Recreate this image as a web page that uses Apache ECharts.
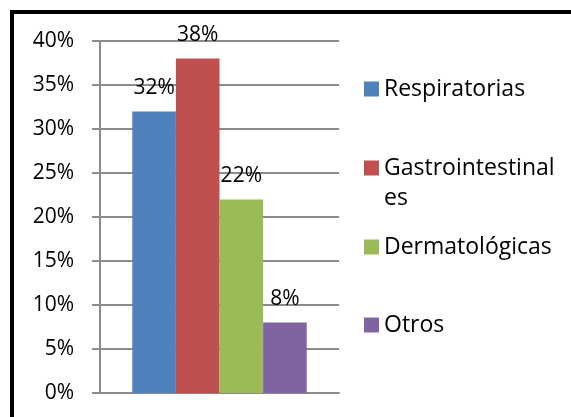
<!DOCTYPE html>
<html>
<head>
<meta charset="utf-8">
<script src="https://cdn.jsdelivr.net/npm/echarts@6/dist/echarts.min.js"></script>
<style>
    html, body { margin: 0; padding: 0; background: #fff; }
    #frame {
        position: absolute; left: 10px; top: 10px;
        width: 640px; height: 480px;
        border: 4px solid #000;
    }
    #main { position: absolute; left: 0; top: 0; width: 571px; height: 417px; }
</style>
</head>
<body>
<div id="frame"></div>
<div id="main"></div>
<script>
// datos del gráfico
const categories = [''];
const seriesNames = ['Respiratorias', 'Gastrointestinales', 'Dermatológicas', 'Otros'];
const seriesValues = [[32], [38], [22], [8]];
const seriesColors = ['#4F81BD', '#C0504D', '#9BBB59', '#8064A2'];
// la línea vacía inicial deja el icono alineado con "Gastrointestinal"
const legendLabels = ['Respiratorias', '\nGastrointestinal\nes', 'Dermatológicas', 'Otros'];
const legendTops = [74, 123, 232, 310];

const FONT = 'Open Sans';
const gridColor = '#8c8c8c';

document.addEventListener('DOMContentLoaded', function () {
    const myChart = echarts.init(document.getElementById('main'));

    // una leyenda por serie, para poder cortar "Gastrointestinales"
    const legends = seriesNames.map((name, i) => ({
        data: [{ name: name, icon: 'rect' }],
        left: 364,
        top: legendTops[i],
        padding: 0,
        itemWidth: 15,
        itemHeight: 15,
        selectedMode: false,
        formatter: () => legendLabels[i],
        textStyle: {
            fontFamily: FONT,
            fontSize: 23,
            color: '#000',
            lineHeight: 30
        }
    }));

    const series = seriesNames.map((name, i) => ({
        name: name,
        type: 'bar',
        data: seriesValues[i],
        barGap: 0,
        barCategoryGap: '27%',
        itemStyle: { color: seriesColors[i] },
        label: {
            show: true,
            position: 'top',
            distance: 13,
            formatter: '{c}%',
            fontFamily: FONT,
            fontSize: 21,
            color: '#000'
        }
    }));

    const option = {
        animation: false,
        legend: legends,
        grid: { left: 100, right: 232, top: 41, bottom: 24 },
        xAxis: {
            type: 'category',
            data: categories,
            axisLine: { lineStyle: { color: gridColor, width: 2 } },
            axisTick: { show: false },
            axisLabel: { show: false }
        },
        yAxis: {
            type: 'value',
            min: 0,
            max: 40,
            interval: 5,
            axisLine: { show: true, lineStyle: { color: gridColor, width: 2 } },
            axisTick: { show: true, length: 8, lineStyle: { color: gridColor, width: 2 } },
            splitLine: { lineStyle: { color: gridColor, width: 2 } },
            axisLabel: {
                formatter: '{value}%',
                fontFamily: FONT,
                fontSize: 21,
                color: '#000',
                margin: 26
            }
        },
        series: series
    };

    myChart.setOption(option);
});
</script>
</body>
</html>
